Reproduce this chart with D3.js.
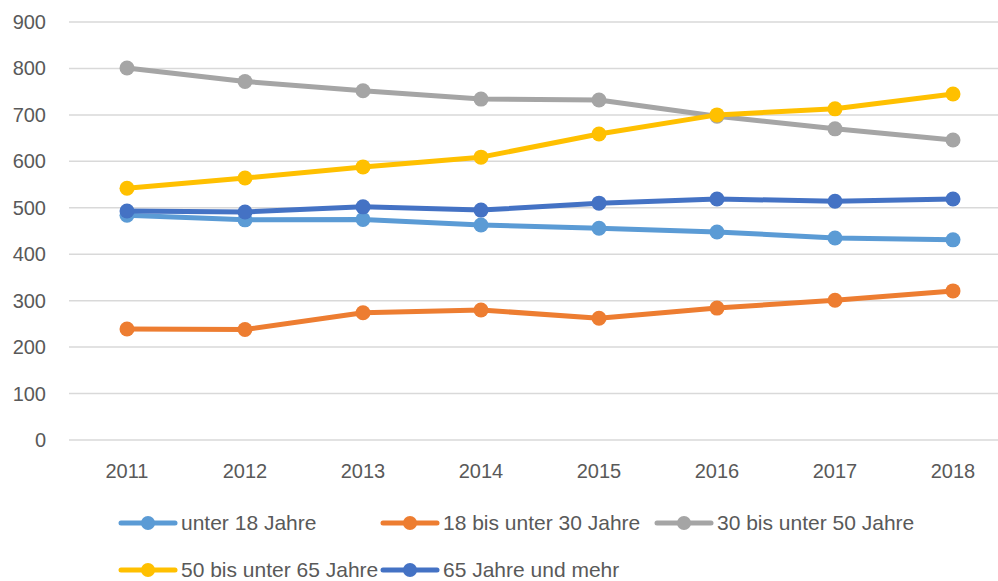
<!DOCTYPE html>
<html>
<head>
<meta charset="utf-8">
<script src="https://cdn.jsdelivr.net/npm/d3@7"></script>
<style>
  body { margin: 0; background: #fff; }
  text { font-family: "Liberation Sans", Arial, sans-serif; fill: #595959; }
</style>
</head>
<body>
<svg id="chart"></svg>
<script>
// Chart size
const width = 998;
const height = 581;

// Data
const years = ["2011", "2012", "2013", "2014", "2015", "2016", "2017", "2018"];
const seriesNames = ["unter 18 Jahre", "18 bis unter 30 Jahre", "30 bis unter 50 Jahre", "50 bis unter 65 Jahre", "65 Jahre und mehr"];
const unter18 = [484, 474, 475, 463, 456, 448, 435, 431];
const von18bis30 = [239, 238, 274, 280, 262, 284, 301, 321];
const von30bis50 = [801, 772, 752, 734, 732, 697, 670, 646];
const von50bis65 = [542, 564, 588, 609, 659, 700, 713, 745];
const ab65 = [493, 491, 502, 495, 510, 519, 514, 519];
const yTicks = [0, 100, 200, 300, 400, 500, 600, 700, 800, 900];
const colors = ["#5B9BD5", "#ED7D31", "#A5A5A5", "#FFC000", "#4472C4"];

const seriesValues = [unter18, von18bis30, von30bis50, von50bis65, ab65];

const svg = d3.select("#chart")
              .attr("width", width)
              .attr("height", height);

// Scales
const x = d3.scalePoint()
            .domain(years)
            .range([127, 953]);

const y = d3.scaleLinear()
            .domain([0, 900])
            .range([440, 22]);

// Gridlines
svg.append("g")
   .selectAll("line")
   .data(yTicks)
   .enter().append("line")
   .attr("x1", 69)
   .attr("x2", width)
   .attr("y1", d => y(d))
   .attr("y2", d => y(d))
   .attr("stroke", "#D9D9D9")
   .attr("stroke-width", 1.5);

// Y axis labels
svg.append("g")
   .selectAll("text")
   .data(yTicks)
   .enter().append("text")
   .attr("x", 46)
   .attr("y", d => y(d))
   .attr("dy", "0.35em")
   .attr("text-anchor", "end")
   .style("font-size", "20px")
   .text(d => d);

// X axis labels
svg.append("g")
   .selectAll("text")
   .data(years)
   .enter().append("text")
   .attr("x", d => x(d))
   .attr("y", 478)
   .attr("text-anchor", "middle")
   .style("font-size", "20px")
   .text(d => d);

// Lines and markers
const line = d3.line()
               .x((d, i) => x(years[i]))
               .y(d => y(d));

seriesValues.forEach((vals, s) => {
  const g = svg.append("g");
  g.append("path")
   .datum(vals)
   .attr("d", line)
   .attr("fill", "none")
   .attr("stroke", colors[s])
   .attr("stroke-width", 5)
   .attr("stroke-linejoin", "round");
  g.selectAll("circle")
   .data(vals)
   .enter().append("circle")
   .attr("cx", (d, i) => x(years[i]))
   .attr("cy", d => y(d))
   .attr("r", 7.5)
   .attr("fill", colors[s]);
});

// Legend
const legendPos = [
  {x: 121, y: 523}, {x: 383, y: 523}, {x: 657, y: 523},
  {x: 121, y: 570}, {x: 383, y: 570}
];

const legend = svg.append("g")
                  .selectAll("g")
                  .data(seriesNames)
                  .enter().append("g")
                  .attr("transform", (d, i) => `translate(${legendPos[i].x},${legendPos[i].y})`);

legend.append("line")
      .attr("x1", 0)
      .attr("x2", 54)
      .attr("stroke", (d, i) => colors[i])
      .attr("stroke-width", 5)
      .attr("stroke-linecap", "round");

legend.append("circle")
      .attr("cx", 27)
      .attr("r", 7)
      .attr("fill", (d, i) => colors[i]);

legend.append("text")
      .attr("x", 60)
      .attr("dy", "0.35em")
      .style("font-size", "21px")
      .text(d => d);
</script>
</body>
</html>
